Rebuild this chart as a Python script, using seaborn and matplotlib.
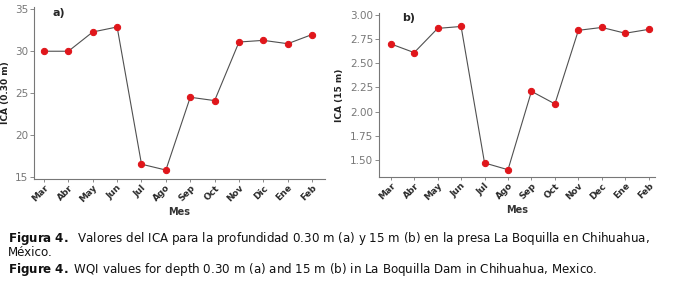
import pandas as pd
import seaborn as sns
import matplotlib.pyplot as plt

meses_a = ["Mar", "Abr", "May", "Jun", "Jul", "Ago", "Sep", "Oct", "Nov", "Dic", "Ene", "Feb"]
meses_b = ["Mar", "Abr", "May", "Jun", "Jul", "Ago", "Sep", "Oct", "Nov", "Dec", "Ene", "Feb"]
ica_030 = [30.0, 30.0, 32.3, 32.9, 16.5, 15.8, 24.5, 24.1, 31.1, 31.3, 30.9, 32.0]
ica_15 = [2.70, 2.61, 2.86, 2.88, 1.47, 1.40, 2.21, 2.08, 2.84, 2.87, 2.81, 2.85]
yticks_a = [15, 20, 25, 30, 35]
yticks_b = [1.50, 1.75, 2.00, 2.25, 2.50, 2.75, 3.00]

df_a = pd.DataFrame({"Mes": meses_a, "ICA": ica_030})
df_b = pd.DataFrame({"Mes": meses_b, "ICA": ica_15})

sns.set_theme(style="ticks")
plt.rcParams['font.family'] = ['DejaVu Sans']

fig = plt.figure(figsize=(6.8, 2.87), dpi=100)
ax1 = fig.add_axes([0.050, 0.376, 0.428, 0.600])
ax2 = fig.add_axes([0.557, 0.383, 0.406, 0.572])

gray = "#777777"
red = "#e0161b"

for ax, df in [(ax1, df_a), (ax2, df_b)]:
    sns.lineplot(data=df, x="Mes", y="ICA", ax=ax, sort=False, color="#505050",
                 linewidth=0.8, marker="o", markersize=4.5,
                 markerfacecolor=red, markeredgecolor=red)
    sns.despine(ax=ax)
    for s in ["left", "bottom"]:
        ax.spines[s].set_color(gray)
        ax.spines[s].set_linewidth(0.8)
    ax.tick_params(axis="y", colors=gray, labelsize=7.5, length=3, width=0.6, pad=1)
    ax.tick_params(axis="x", colors=gray, length=2, width=0.6, pad=1)
    plt.setp(ax.get_xticklabels(), rotation=45, ha="right", rotation_mode="anchor",
             fontsize=6.5, fontweight="bold", color="#2a2a2a")
    ax.set_xlabel("Mes", fontsize=7, fontweight="bold", color="#333333", labelpad=2)

ax1.set_xlim(-0.41, 11.53)
ax1.set_ylim(14.72, 35.3)
ax1.set_yticks(yticks_a)
ax1.set_ylabel("ICA (0.30 m)", fontsize=6.5, fontweight="bold", color="#222222", labelpad=4)
ax1.text(0.065, 0.995, "a)", transform=ax1.transAxes, fontsize=8, fontweight="bold", va="top")

ax2.set_xlim(-0.51, 11.26)
ax2.set_ylim(1.324, 3.02)
ax2.set_yticks(yticks_b)
ax2.set_yticklabels([f"{v:.2f}" for v in yticks_b])
ax2.set_ylabel("ICA (15 m)", fontsize=6.5, fontweight="bold", color="#222222", labelpad=4)
ax2.text(0.085, 1.0, "b)", transform=ax2.transAxes, fontsize=8, fontweight="bold", va="top")

cap = dict(fontsize=8.6, color="#111111", va="baseline")
fig.text(0.012, 1 - 242 / 287, r"$\bf{Figura\ 4.}$  Valores del ICA para la profundidad 0.30 m (a) y 15 m (b) en la presa La Boquilla en Chihuahua,", **cap)
fig.text(0.012, 1 - 256 / 287, "México.", **cap)
fig.text(0.012, 1 - 273 / 287, r"$\bf{Figure\ 4.}$ WQI values for depth 0.30 m (a) and 15 m (b) in La Boquilla Dam in Chihuahua, Mexico.", **cap)

plt.savefig("out.png", dpi=100)
